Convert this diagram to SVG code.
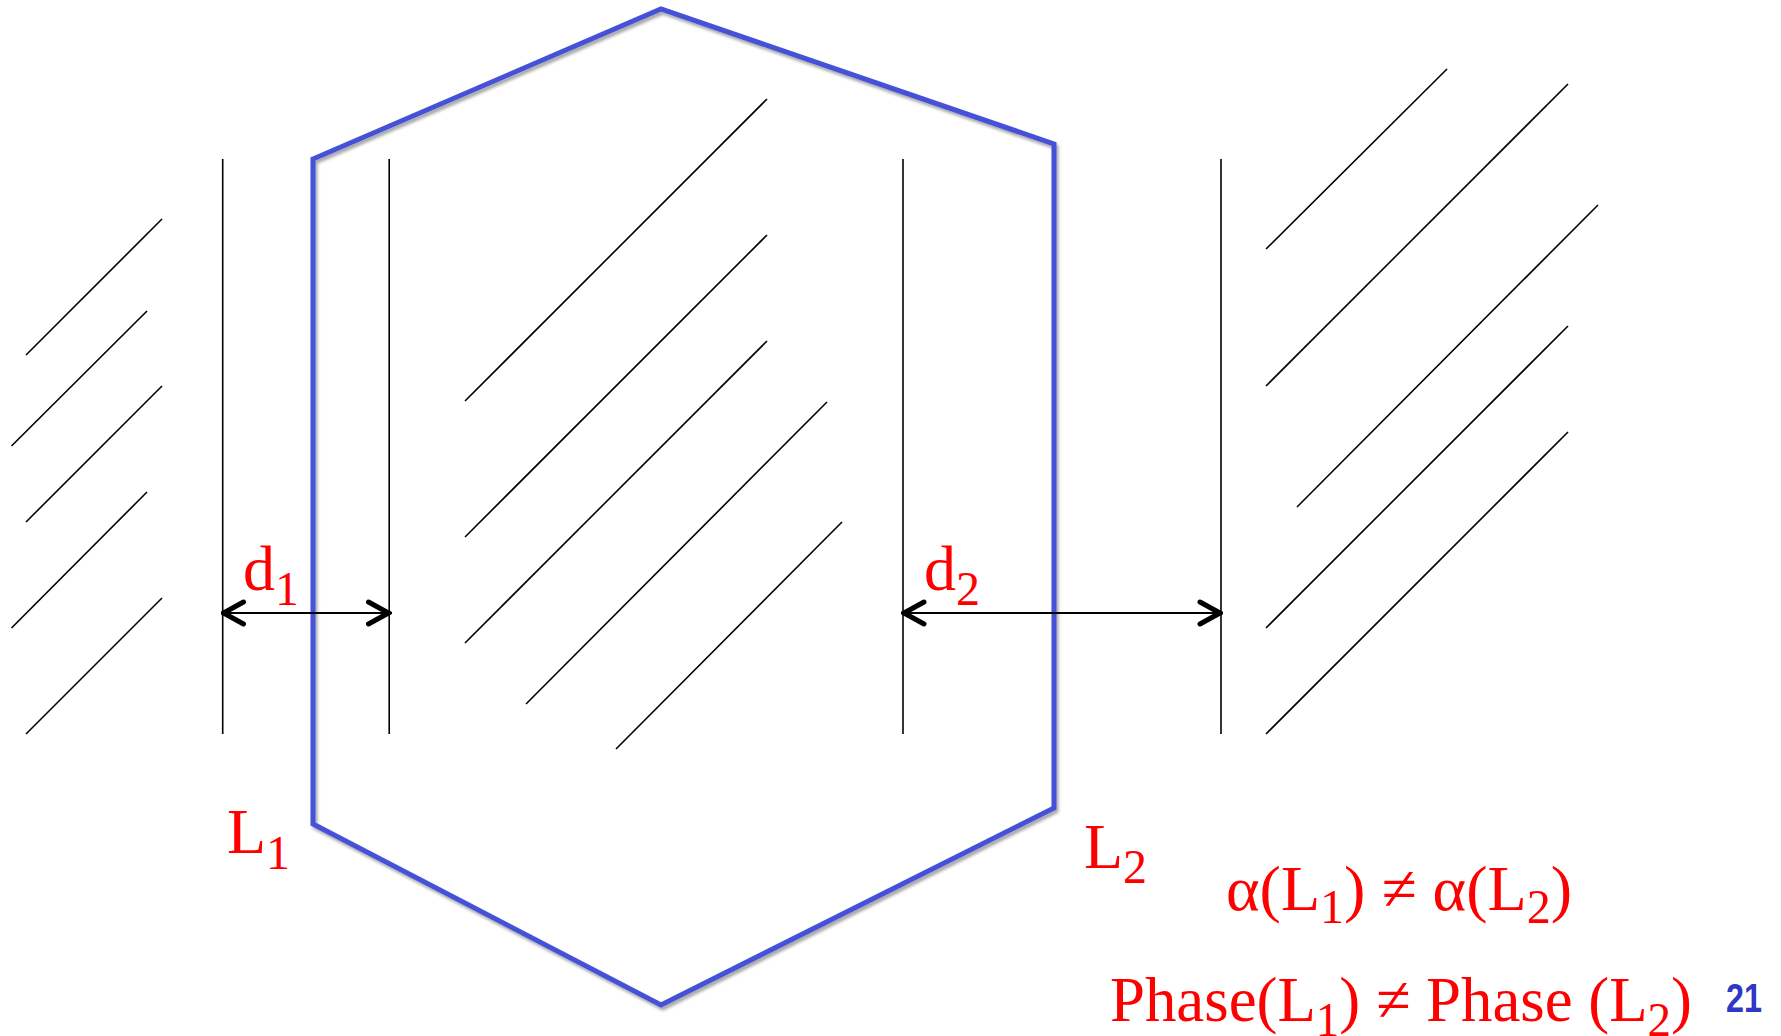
<svg xmlns="http://www.w3.org/2000/svg" width="1781" height="1036" viewBox="0 0 1781 1036">
<defs>
<style>
.hex{fill:none;stroke:#4551d6;stroke-width:5;stroke-linejoin:miter}
.ln{stroke:#000;stroke-width:1.6;fill:none}
.dim{stroke:#000;stroke-width:2;fill:none}
.lbl{font-family:"Liberation Serif","Times New Roman",serif;fill:#ff0000;font-size:64px}
.sub{font-size:48px}
.pg{font-family:"Liberation Sans",Arial,sans-serif;font-weight:bold;fill:#2f37c6;font-size:40px}
</style>
<filter id="sh" x="-10%" y="-10%" width="120%" height="120%">
<feDropShadow dx="2" dy="3" stdDeviation="1.5" flood-color="#000" flood-opacity="0.35"/>
</filter>
<marker id="ah" viewBox="0 0 26 28" refX="23" refY="14" markerWidth="26" markerHeight="28" markerUnits="userSpaceOnUse" orient="auto-start-reverse">
<path d="M3,3 L23,14 L3,25" fill="none" stroke="#000" stroke-width="5" stroke-linecap="round" stroke-linejoin="miter"/>
</marker>
</defs>
<rect width="1781" height="1036" fill="#fff"/>

<g id="hexagon">
<polygon class="hex" filter="url(#sh)" points="313,159 661,9 1054,144 1054,808 661,1005 313,824"/>
</g>

<g id="hatch-left">
<line class="ln" x1="26" y1="355" x2="162" y2="219"/>
<line class="ln" x1="11.5" y1="446" x2="147" y2="311"/>
<line class="ln" x1="26" y1="522" x2="162" y2="386"/>
<line class="ln" x1="11.5" y1="628" x2="147" y2="492"/>
<line class="ln" x1="26" y1="734" x2="162" y2="598"/>
</g>
<g id="hatch-center">
<line class="ln" x1="465" y1="401" x2="767" y2="99"/>
<line class="ln" x1="465" y1="537" x2="767" y2="235"/>
<line class="ln" x1="465" y1="643" x2="767" y2="341"/>
<line class="ln" x1="526" y1="704" x2="827" y2="402"/>
<line class="ln" x1="616" y1="749" x2="842" y2="522"/>
</g>
<g id="hatch-right">
<line class="ln" x1="1266" y1="249" x2="1447" y2="69"/>
<line class="ln" x1="1266" y1="386" x2="1568" y2="84"/>
<line class="ln" x1="1297" y1="507" x2="1598" y2="205"/>
<line class="ln" x1="1266" y1="628" x2="1568" y2="326"/>
<line class="ln" x1="1266" y1="734" x2="1568" y2="432"/>
</g>
<g id="boundaries">
<line class="ln" x1="222.7" y1="159" x2="222.7" y2="734"/>
<line class="ln" x1="389.2" y1="159" x2="389.2" y2="734"/>
<line class="ln" x1="903" y1="159" x2="903" y2="734"/>
<line class="ln" x1="1221" y1="159" x2="1221" y2="734"/>
</g>

<g id="connectors">
<line class="dim" x1="223.5" y1="613" x2="388.5" y2="613" marker-start="url(#ah)" marker-end="url(#ah)"/>
<line class="dim" x1="904" y1="613" x2="1220" y2="613" marker-start="url(#ah)" marker-end="url(#ah)"/>
</g>

<g id="labels">
<text class="lbl" x="243" y="590">d<tspan class="sub" dy="15">1</tspan></text>
<text class="lbl" x="924" y="590">d<tspan class="sub" dy="15">2</tspan></text>
<text class="lbl" x="227" y="853">L<tspan class="sub" dy="16">1</tspan></text>
<text class="lbl" x="1084" y="868">L<tspan class="sub" dy="15">2</tspan></text>
<text class="lbl" x="1226" y="910" textLength="346" lengthAdjust="spacingAndGlyphs">α(L<tspan class="sub" dy="13">1</tspan><tspan dy="-13">) ≠ α(L</tspan><tspan class="sub" dy="13">2</tspan><tspan dy="-13">)</tspan></text>
<text class="lbl" x="1110" y="1021" textLength="582" lengthAdjust="spacingAndGlyphs">Phase(L<tspan class="sub" dy="15">1</tspan><tspan dy="-15">) ≠ Phase (L</tspan><tspan class="sub" dy="15">2</tspan><tspan dy="-15">)</tspan></text>
<text class="pg" x="1726" y="1012" textLength="36" lengthAdjust="spacingAndGlyphs">21</text>
</g>
</svg>
